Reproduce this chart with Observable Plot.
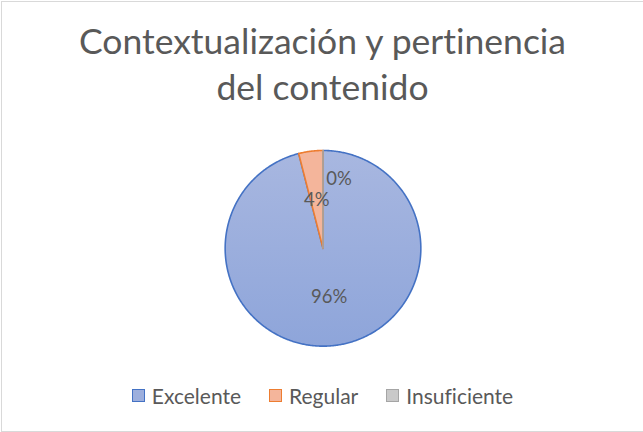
<!DOCTYPE html>
<html>
<head>
<meta charset="utf-8">
<script src="https://cdn.jsdelivr.net/npm/d3@7"></script>
<script src="https://cdn.jsdelivr.net/npm/@observablehq/plot@0.6"></script>
<style>
  html, body { margin: 0; padding: 0; background: #fff; }
  #frame {
    position: relative; width: 641px; height: 429px; margin: 1px 0 0 1px;
    border: 1px solid #D9D9D9; background: #fff; overflow: hidden;
    font-family: Lato, "Open Sans", sans-serif; color: #595959;
    font-variant-ligatures: none;
  }
  #title {
    position: absolute; left: 0; right: 0; top: 16px; text-align: center;
    font-size: 35.5px; line-height: 46px; color: #595959;
  }
  #chart { position: absolute; left: -1px; top: 139px; }
  #legend {
    position: absolute; left: 0; right: 0; top: 381px; display: flex;
    justify-content: center; align-items: center; gap: 0; font-size: 21px;
  }
  .item { display: flex; align-items: center; margin: 0 12px; }
  .item + .item { margin-left: 16px; }
  .sw { width: 11px; height: 11px; border-width: 1.5px; border-style: solid; margin-right: 7px; }
</style>
</head>
<body>
<div id="frame">
  <div id="title"></div>
  <div id="chart"></div>
  <div id="legend"></div>
</div>
<script>
// ---- data ----
const titleLines = ["Contextualización y pertinencia", "del contenido"];
const categories = ["Excelente", "Regular", "Insuficiente"];
const values = [96, 4, 0];
const labels = ["96%", "4%", "0%"];
const fills = ["url(#gradBlue)", "#F4B59B", "#C9C9C9"];
const strokes = ["#4472C4", "#ED7D31", "#A5A5A5"];
const swatchFills = ["#9DAFDD", "#F4B59B", "#C9C9C9"];

// title
document.getElementById("title").innerHTML = titleLines.join("<br>");

// pie geometry via d3.pie (angles from data)
const arcs = d3.pie().sort(null).value(d => d)(values);
const slices = arcs.map((a, i) => {
  const pts = [{x: 0, y: 0}];
  const n = Math.max(2, Math.ceil((a.endAngle - a.startAngle) / 0.01));
  for (let k = 0; k <= n; k++) {
    const t = a.startAngle + (a.endAngle - a.startAngle) * k / n;
    pts.push({x: Math.sin(t), y: Math.cos(t)});
  }
  pts.push({x: 0, y: 0});
  return {cat: categories[i], pts};
});
const labelR = 0.5;
const labelData = arcs.map((a, i) => {
  const m = (a.startAngle + a.endAngle) / 2;
  return {label: labels[i], x: labelR * Math.sin(m), y: labelR * Math.cos(m), i};
});

const R = 98;
const W = 643, H = 214;
const mL = 322 - R, mR = W - 322 - R, mT = (H - 2 * R) / 2, mB = (H - 2 * R) / 2;

const marks = slices.map((s, i) => Plot.line(s.pts, {
  x: "x", y: "y", fill: fills[i], stroke: strokes[i], strokeWidth: 1.6,
  strokeLinejoin: "round", curve: "linear"
}));
marks.push(Plot.text(labelData.filter(d => d.i < 2), {
  x: "x", y: "y", text: "label", fill: "#595959", fontSize: 18.5,
  fontFamily: "Lato, 'Open Sans', sans-serif"
}));
// the 0% label is nudged aside by the chart's best-fit placement
marks.push(Plot.text(labelData.filter(d => d.i === 2), {
  x: "x", y: "y", text: "label", fill: "#595959", fontSize: 18.5,
  fontFamily: "Lato, 'Open Sans', sans-serif", dx: 16, dy: -20
}));

const plot = Plot.plot({
  width: W, height: H,
  marginLeft: mL, marginRight: mR, marginTop: mT, marginBottom: mB,
  x: {domain: [-1, 1], axis: null},
  y: {domain: [-1, 1], axis: null},
  style: {background: "transparent", overflow: "visible"},
  marks
});
const ys = plot.scale("y");
const ns = "http://www.w3.org/2000/svg";
const defs = document.createElementNS(ns, "defs");
defs.innerHTML = `<linearGradient id="gradBlue" gradientUnits="userSpaceOnUse" x1="0" y1="${ys.apply(1)}" x2="0" y2="${ys.apply(-1)}">
  <stop offset="0" stop-color="#A8B7E0"/><stop offset="1" stop-color="#8EA5DA"/></linearGradient>`;
plot.insertBefore(defs, plot.firstChild);
document.getElementById("chart").appendChild(plot);

// legend
const legend = document.getElementById("legend");
categories.forEach((c, i) => {
  const it = document.createElement("div");
  it.className = "item";
  it.innerHTML = `<span class="sw" style="background:${swatchFills[i]};border-color:${strokes[i]}"></span><span>${c}</span>`;
  legend.appendChild(it);
});
</script>
</body>
</html>
